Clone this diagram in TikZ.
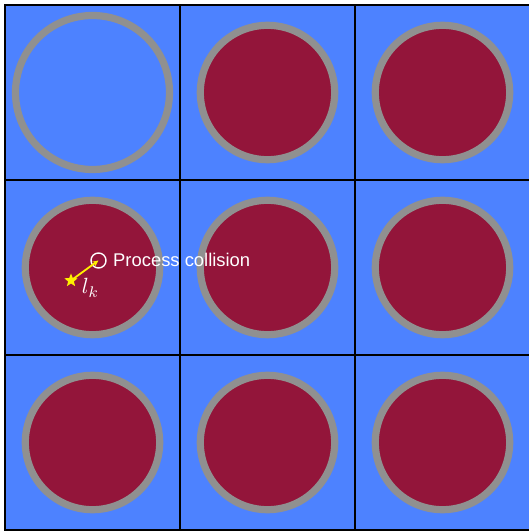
\documentclass[tikz,border=0pt]{standalone}
\usepackage{fontspec}
\setsansfont{Liberation Sans}
\usetikzlibrary{shapes.geometric,arrows.meta}
\definecolor{cellblue}{RGB}{77,130,255}
\definecolor{fuelred}{RGB}{147,21,58}
\definecolor{ringgray}{RGB}{144,144,144}
\definecolor{staryellow}{RGB}{255,240,0}
\tikzset{
  ring/.style={draw=ringgray,line width=7.2pt},
  fuel/.style={ring,fill=fuelred},
  gridline/.style={draw=black,line width=1.6pt},
}
\begin{document}
\begin{tikzpicture}[x=1pt,y=1pt]
\useasboundingbox (0,0) rectangle (529,531);
\clip (0,0) rectangle (529,531);
\fill[cellblue] (5,1) rectangle (530,526);
% rods
\draw[ring] (92.5,438.5) circle (77);
\foreach \cx/\cy in {267.5/438.5, 442.5/438.5, 92.5/263.5, 267.5/263.5, 442.5/263.5, 92.5/88.5, 267.5/88.5, 442.5/88.5}
  \draw[fuel] (\cx,\cy) circle (67.2);
% grid
\draw[gridline] (5,1) rectangle (530,526);
\draw[gridline] (180,1) -- (180,526);
\draw[gridline] (355,1) -- (355,526);
\draw[gridline] (5,351) -- (530,351);
\draw[gridline] (5,176) -- (530,176);
% collision
\node[star,star points=5,star point ratio=2.3,fill=staryellow,inner sep=0pt,minimum size=14pt] (s) at (71,250.5) {};
\node[circle,draw=white,line width=1.4pt,inner sep=0pt,minimum size=15pt] (c) at (98.5,270.5) {};
\draw[staryellow,line width=1.8pt,-{Stealth[length=6pt,width=5.5pt]}] (s.center) -- (c.center);
\node[anchor=base west,text=white,font=\sffamily\fontsize{18.4}{20}\selectfont,inner sep=0pt] (t) at (113,264) {Process collision};
\node[text=white,inner sep=0pt] (l) at (90.5,243) {\scalebox{2.2}{$l_k$}};
\end{tikzpicture}
\end{document}
